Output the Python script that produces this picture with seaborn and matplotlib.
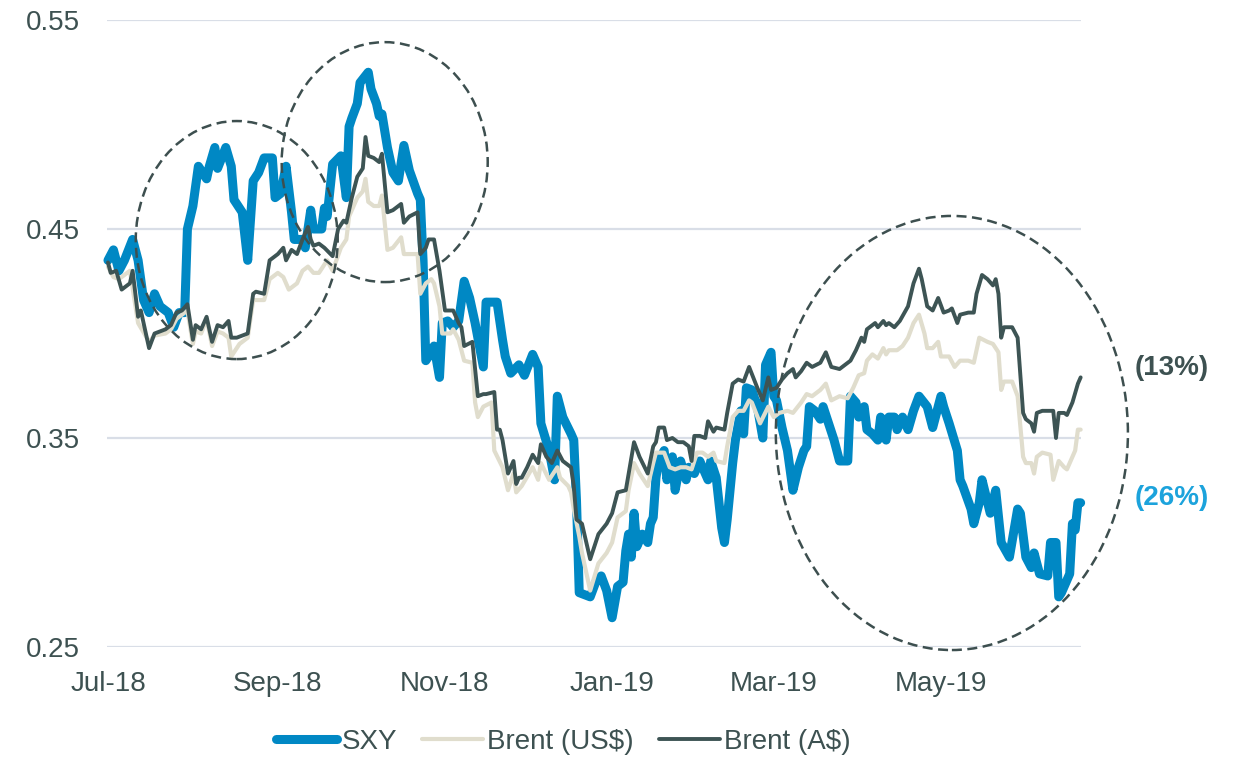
import pandas as pd
import matplotlib
matplotlib.use("Agg")
import matplotlib.pyplot as plt
import matplotlib.dates as mdates
from matplotlib.patches import Ellipse
from matplotlib.ticker import FormatStrFormatter
import seaborn as sns

# ---- data ----
sxy_dates = [
    "2018-07-01", "2018-07-03", "2018-07-05", "2018-07-07", "2018-07-10", "2018-07-12",
    "2018-07-14", "2018-07-16", "2018-07-18", "2018-07-20", "2018-07-23", "2018-07-25",
    "2018-07-27", "2018-07-29", "2018-07-30", "2018-08-01", "2018-08-03", "2018-08-06",
    "2018-08-07", "2018-08-09", "2018-08-10", "2018-08-13", "2018-08-15", "2018-08-16",
    "2018-08-19", "2018-08-21", "2018-08-23", "2018-08-25", "2018-08-27", "2018-08-30",
    "2018-08-31", "2018-09-02", "2018-09-04", "2018-09-06", "2018-09-07", "2018-09-10",
    "2018-09-11", "2018-09-13", "2018-09-14", "2018-09-17", "2018-09-18", "2018-09-19",
    "2018-09-21", "2018-09-24", "2018-09-26", "2018-09-27", "2018-09-28", "2018-09-30",
    "2018-10-01", "2018-10-04", "2018-10-05", "2018-10-07", "2018-10-08", "2018-10-09",
    "2018-10-11", "2018-10-13", "2018-10-15", "2018-10-17", "2018-10-19", "2018-10-22",
    "2018-10-23", "2018-10-24", "2018-10-25", "2018-10-27", "2018-10-28", "2018-10-30",
    "2018-10-31", "2018-11-02", "2018-11-04", "2018-11-06", "2018-11-08", "2018-11-10",
    "2018-11-12", "2018-11-15", "2018-11-16", "2018-11-20", "2018-11-22", "2018-11-23",
    "2018-11-25", "2018-11-28", "2018-11-30", "2018-12-03", "2018-12-05", "2018-12-06",
    "2018-12-09", "2018-12-11", "2018-12-12", "2018-12-14", "2018-12-17", "2018-12-18",
    "2018-12-19", "2018-12-20", "2018-12-24", "2018-12-26", "2018-12-28", "2018-12-30",
    "2019-01-01", "2019-01-03", "2019-01-05", "2019-01-06", "2019-01-07", "2019-01-08",
    "2019-01-09", "2019-01-10", "2019-01-12", "2019-01-14", "2019-01-15", "2019-01-16",
    "2019-01-17", "2019-01-18", "2019-01-20", "2019-01-21", "2019-01-23", "2019-01-24",
    "2019-01-26", "2019-01-28", "2019-01-29", "2019-01-31", "2019-02-02", "2019-02-05",
    "2019-02-06", "2019-02-08", "2019-02-10", "2019-02-11", "2019-02-12", "2019-02-14",
    "2019-02-15", "2019-02-17", "2019-02-18", "2019-02-19", "2019-02-21", "2019-02-23",
    "2019-02-25", "2019-02-26", "2019-02-28", "2019-03-01", "2019-03-02", "2019-03-04",
    "2019-03-06", "2019-03-08", "2019-03-10", "2019-03-12", "2019-03-13", "2019-03-14",
    "2019-03-16", "2019-03-18", "2019-03-19", "2019-03-20", "2019-03-23", "2019-03-25",
    "2019-03-28", "2019-03-29", "2019-03-31", "2019-04-01", "2019-04-03", "2019-04-04",
    "2019-04-06", "2019-04-08", "2019-04-09", "2019-04-11", "2019-04-12", "2019-04-14",
    "2019-04-15", "2019-04-17", "2019-04-19", "2019-04-21", "2019-04-23", "2019-04-26",
    "2019-04-28", "2019-05-01", "2019-05-02", "2019-05-04", "2019-05-07", "2019-05-08",
    "2019-05-09", "2019-05-12", "2019-05-13", "2019-05-15", "2019-05-16", "2019-05-19",
    "2019-05-21", "2019-05-23", "2019-05-26", "2019-05-29", "2019-05-30", "2019-06-01",
    "2019-06-03", "2019-06-04", "2019-06-06", "2019-06-09", "2019-06-10", "2019-06-12",
    "2019-06-13", "2019-06-14", "2019-06-17", "2019-06-18", "2019-06-19", "2019-06-20",
    "2019-06-21",
]
sxy_values = [
    0.435, 0.440, 0.430, 0.435, 0.445, 0.435,
    0.416, 0.410, 0.419, 0.413, 0.410, 0.403,
    0.410, 0.410, 0.450, 0.461, 0.480, 0.474,
    0.480, 0.489, 0.479, 0.489, 0.480, 0.464,
    0.458, 0.435, 0.473, 0.477, 0.484, 0.484,
    0.465, 0.467, 0.480, 0.458, 0.445, 0.445,
    0.441, 0.459, 0.450, 0.450, 0.460, 0.456,
    0.481, 0.485, 0.465, 0.499, 0.503, 0.510,
    0.520, 0.525, 0.517, 0.510, 0.504, 0.505,
    0.489, 0.477, 0.473, 0.490, 0.478, 0.467,
    0.464, 0.435, 0.387, 0.391, 0.394, 0.379,
    0.405, 0.406, 0.403, 0.406, 0.425, 0.417,
    0.405, 0.384, 0.415, 0.415, 0.397, 0.389,
    0.381, 0.385, 0.380, 0.390, 0.384, 0.357,
    0.344, 0.330, 0.370, 0.360, 0.352, 0.349,
    0.320, 0.276, 0.274, 0.281, 0.284, 0.277,
    0.264, 0.279, 0.281, 0.296, 0.304, 0.293,
    0.314, 0.298, 0.304, 0.300, 0.309, 0.312,
    0.331, 0.339, 0.344, 0.330, 0.341, 0.325,
    0.339, 0.330, 0.336, 0.333, 0.339, 0.330,
    0.339, 0.331, 0.307, 0.300, 0.311, 0.338,
    0.349, 0.363, 0.352, 0.374, 0.373, 0.365,
    0.350, 0.385, 0.391, 0.370, 0.368, 0.355,
    0.344, 0.325, 0.336, 0.344, 0.346, 0.365,
    0.363, 0.359, 0.365, 0.361, 0.349, 0.339,
    0.339, 0.370, 0.367, 0.360, 0.365, 0.354,
    0.352, 0.349, 0.360, 0.349, 0.360, 0.360,
    0.354, 0.360, 0.354, 0.363, 0.370, 0.365,
    0.355, 0.370, 0.365, 0.357, 0.344, 0.330,
    0.327, 0.316, 0.309, 0.319, 0.330, 0.314,
    0.325, 0.300, 0.293, 0.316, 0.314, 0.293,
    0.288, 0.295, 0.285, 0.284, 0.300, 0.300,
    0.274, 0.276, 0.285, 0.309, 0.306, 0.319,
    0.319,
]

brent_usd_dates = [
    "2018-07-01", "2018-07-03", "2018-07-05", "2018-07-09", "2018-07-12", "2018-07-16",
    "2018-07-18", "2018-07-22", "2018-07-24", "2018-07-26", "2018-07-28", "2018-07-30",
    "2018-08-01", "2018-08-02", "2018-08-04", "2018-08-06", "2018-08-08", "2018-08-10",
    "2018-08-12", "2018-08-14", "2018-08-15", "2018-08-18", "2018-08-21", "2018-08-23",
    "2018-08-27", "2018-08-29", "2018-09-01", "2018-09-03", "2018-09-05", "2018-09-08",
    "2018-09-10", "2018-09-12", "2018-09-14", "2018-09-16", "2018-09-19", "2018-09-21",
    "2018-09-24", "2018-09-26", "2018-09-27", "2018-09-30", "2018-10-02", "2018-10-03",
    "2018-10-04", "2018-10-06", "2018-10-08", "2018-10-09", "2018-10-11", "2018-10-13",
    "2018-10-16", "2018-10-17", "2018-10-19", "2018-10-22", "2018-10-23", "2018-10-25",
    "2018-10-27", "2018-10-28", "2018-10-30", "2018-10-31", "2018-11-03", "2018-11-04",
    "2018-11-06", "2018-11-08", "2018-11-11", "2018-11-12", "2018-11-13", "2018-11-15",
    "2018-11-18", "2018-11-19", "2018-11-22", "2018-11-24", "2018-11-26", "2018-11-27",
    "2018-11-29", "2018-12-03", "2018-12-05", "2018-12-06", "2018-12-09", "2018-12-12",
    "2018-12-13", "2018-12-16", "2018-12-17", "2018-12-18", "2018-12-20", "2018-12-21",
    "2018-12-24", "2018-12-27", "2018-12-30", "2019-01-01", "2019-01-03", "2019-01-06",
    "2019-01-07", "2019-01-09", "2019-01-11", "2019-01-14", "2019-01-16", "2019-01-17",
    "2019-01-18", "2019-01-20", "2019-01-22", "2019-01-24", "2019-01-26", "2019-01-28",
    "2019-01-30", "2019-02-01", "2019-02-03", "2019-02-05", "2019-02-07", "2019-02-08",
    "2019-02-11", "2019-02-12", "2019-02-14", "2019-02-16", "2019-02-18", "2019-02-20",
    "2019-02-21", "2019-02-24", "2019-02-27", "2019-03-01", "2019-03-03", "2019-03-06",
    "2019-03-08", "2019-03-11", "2019-03-13", "2019-03-15", "2019-03-18", "2019-03-20",
    "2019-03-22", "2019-03-25", "2019-03-28", "2019-03-30", "2019-04-01", "2019-04-03",
    "2019-04-04", "2019-04-06", "2019-04-08", "2019-04-10", "2019-04-11", "2019-04-12",
    "2019-04-15", "2019-04-17", "2019-04-19", "2019-04-21", "2019-04-23", "2019-04-25",
    "2019-04-26", "2019-04-28", "2019-04-30", "2019-05-01", "2019-05-04", "2019-05-06",
    "2019-05-08", "2019-05-11", "2019-05-13", "2019-05-15", "2019-05-18", "2019-05-20",
    "2019-05-22", "2019-05-23", "2019-05-24", "2019-05-27", "2019-05-29", "2019-05-31",
    "2019-06-01", "2019-06-03", "2019-06-04", "2019-06-05", "2019-06-07", "2019-06-10",
    "2019-06-11", "2019-06-13", "2019-06-15", "2019-06-16", "2019-06-18", "2019-06-19",
    "2019-06-20", "2019-06-21",
]
brent_usd_values = [
    0.432, 0.427, 0.426, 0.430, 0.405, 0.396,
    0.399, 0.400, 0.402, 0.407, 0.409, 0.411,
    0.395, 0.401, 0.400, 0.407, 0.394, 0.401,
    0.400, 0.398, 0.389, 0.395, 0.398, 0.416,
    0.416, 0.426, 0.429, 0.427, 0.421, 0.424,
    0.430, 0.432, 0.429, 0.429, 0.435, 0.430,
    0.441, 0.445, 0.456, 0.465, 0.468, 0.474,
    0.463, 0.461, 0.461, 0.466, 0.440, 0.441,
    0.446, 0.438, 0.438, 0.438, 0.419, 0.424,
    0.426, 0.424, 0.413, 0.400, 0.400, 0.402,
    0.397, 0.387, 0.386, 0.367, 0.360, 0.365,
    0.367, 0.344, 0.336, 0.325, 0.333, 0.324,
    0.327, 0.336, 0.330, 0.338, 0.330, 0.336,
    0.331, 0.327, 0.324, 0.316, 0.303, 0.295,
    0.277, 0.290, 0.295, 0.300, 0.312, 0.315,
    0.325, 0.338, 0.333, 0.327, 0.338, 0.343,
    0.343, 0.343, 0.336, 0.335, 0.336, 0.336,
    0.335, 0.343, 0.343, 0.341, 0.343, 0.339,
    0.338, 0.346, 0.360, 0.363, 0.363, 0.368,
    0.367, 0.357, 0.365, 0.360, 0.362, 0.363,
    0.362, 0.367, 0.371, 0.370, 0.373, 0.376,
    0.368, 0.370, 0.369, 0.374, 0.380, 0.381,
    0.387, 0.390, 0.388, 0.393, 0.390, 0.392,
    0.392, 0.394, 0.398, 0.405, 0.409, 0.400,
    0.393, 0.393, 0.396, 0.389, 0.389, 0.384,
    0.387, 0.387, 0.386, 0.398, 0.396, 0.395,
    0.391, 0.373, 0.377, 0.377, 0.370, 0.341,
    0.338, 0.338, 0.333, 0.341, 0.343, 0.342,
    0.330, 0.339, 0.336, 0.335, 0.341, 0.344,
    0.354, 0.354,
]

brent_aud_dates = [
    "2018-07-01", "2018-07-02", "2018-07-04", "2018-07-06", "2018-07-09", "2018-07-10",
    "2018-07-12", "2018-07-13", "2018-07-16", "2018-07-18", "2018-07-22", "2018-07-24",
    "2018-07-26", "2018-07-28", "2018-07-30", "2018-08-01", "2018-08-02", "2018-08-04",
    "2018-08-06", "2018-08-08", "2018-08-10", "2018-08-12", "2018-08-14", "2018-08-15",
    "2018-08-17", "2018-08-21", "2018-08-23", "2018-08-24", "2018-08-27", "2018-08-29",
    "2018-09-01", "2018-09-03", "2018-09-04", "2018-09-06", "2018-09-08", "2018-09-10",
    "2018-09-12", "2018-09-13", "2018-09-14", "2018-09-16", "2018-09-18", "2018-09-21",
    "2018-09-23", "2018-09-25", "2018-09-26", "2018-09-28", "2018-09-30", "2018-10-02",
    "2018-10-03", "2018-10-04", "2018-10-06", "2018-10-08", "2018-10-09", "2018-10-11",
    "2018-10-13", "2018-10-16", "2018-10-17", "2018-10-19", "2018-10-22", "2018-10-23",
    "2018-10-25", "2018-10-26", "2018-10-28", "2018-10-30", "2018-11-01", "2018-11-04",
    "2018-11-06", "2018-11-07", "2018-11-08", "2018-11-11", "2018-11-13", "2018-11-15",
    "2018-11-16", "2018-11-19", "2018-11-20", "2018-11-21", "2018-11-22", "2018-11-24",
    "2018-11-26", "2018-11-27", "2018-11-28", "2018-11-29", "2018-12-01", "2018-12-03",
    "2018-12-05", "2018-12-06", "2018-12-08", "2018-12-10", "2018-12-12", "2018-12-14",
    "2018-12-17", "2018-12-18", "2018-12-19", "2018-12-21", "2018-12-24", "2018-12-27",
    "2018-12-30", "2019-01-01", "2019-01-03", "2019-01-06", "2019-01-09", "2019-01-11",
    "2019-01-14", "2019-01-16", "2019-01-17", "2019-01-18", "2019-01-20", "2019-01-21",
    "2019-01-23", "2019-01-25", "2019-01-27", "2019-01-29", "2019-01-30", "2019-01-31",
    "2019-02-02", "2019-02-04", "2019-02-05", "2019-02-07", "2019-02-08", "2019-02-11",
    "2019-02-12", "2019-02-14", "2019-02-16", "2019-02-18", "2019-02-20", "2019-02-23",
    "2019-02-25", "2019-02-27", "2019-02-28", "2019-03-02", "2019-03-04", "2019-03-06",
    "2019-03-08", "2019-03-09", "2019-03-11", "2019-03-13", "2019-03-15", "2019-03-18",
    "2019-03-20", "2019-03-22", "2019-03-25", "2019-03-27", "2019-03-29", "2019-03-31",
    "2019-04-02", "2019-04-03", "2019-04-04", "2019-04-07", "2019-04-08", "2019-04-10",
    "2019-04-11", "2019-04-12", "2019-04-14", "2019-04-16", "2019-04-19", "2019-04-21",
    "2019-04-23", "2019-04-24", "2019-04-26", "2019-04-28", "2019-04-30", "2019-05-02",
    "2019-05-04", "2019-05-05", "2019-05-07", "2019-05-08", "2019-05-11", "2019-05-13",
    "2019-05-14", "2019-05-16", "2019-05-18", "2019-05-20", "2019-05-21", "2019-05-22",
    "2019-05-23", "2019-05-24", "2019-05-27", "2019-05-29", "2019-05-31", "2019-06-01",
    "2019-06-03", "2019-06-04", "2019-06-05", "2019-06-07", "2019-06-10", "2019-06-11",
    "2019-06-12", "2019-06-13", "2019-06-15", "2019-06-16", "2019-06-18", "2019-06-20",
    "2019-06-21",
]
brent_aud_values = [
    0.434, 0.429, 0.430, 0.421, 0.424, 0.430,
    0.408, 0.411, 0.393, 0.400, 0.402, 0.404,
    0.410, 0.411, 0.414, 0.397, 0.404, 0.402,
    0.408, 0.396, 0.404, 0.403, 0.406, 0.398,
    0.398, 0.400, 0.419, 0.420, 0.419, 0.435,
    0.438, 0.441, 0.435, 0.440, 0.438, 0.445,
    0.451, 0.445, 0.442, 0.443, 0.441, 0.437,
    0.450, 0.454, 0.453, 0.465, 0.475, 0.479,
    0.494, 0.485, 0.484, 0.482, 0.486, 0.458,
    0.459, 0.462, 0.453, 0.456, 0.458, 0.438,
    0.441, 0.445, 0.445, 0.430, 0.411, 0.411,
    0.405, 0.403, 0.394, 0.396, 0.370, 0.371,
    0.371, 0.372, 0.354, 0.354, 0.349, 0.333,
    0.339, 0.328, 0.331, 0.331, 0.336, 0.342,
    0.338, 0.347, 0.341, 0.338, 0.344, 0.339,
    0.336, 0.327, 0.311, 0.309, 0.292, 0.304,
    0.309, 0.314, 0.324, 0.325, 0.348, 0.341,
    0.333, 0.346, 0.348, 0.355, 0.355, 0.349,
    0.350, 0.348, 0.348, 0.346, 0.339, 0.351,
    0.351, 0.350, 0.358, 0.353, 0.355, 0.354,
    0.362, 0.376, 0.378, 0.377, 0.384, 0.374,
    0.368, 0.379, 0.373, 0.374, 0.378, 0.381,
    0.383, 0.379, 0.382, 0.386, 0.384, 0.386,
    0.391, 0.384, 0.383, 0.385, 0.387, 0.392,
    0.398, 0.396, 0.402, 0.405, 0.403, 0.406,
    0.404, 0.405, 0.403, 0.406, 0.413, 0.424,
    0.431, 0.426, 0.413, 0.411, 0.417, 0.410,
    0.411, 0.412, 0.405, 0.409, 0.410, 0.410,
    0.419, 0.428, 0.426, 0.423, 0.426, 0.419,
    0.398, 0.403, 0.403, 0.398, 0.362, 0.359,
    0.357, 0.353, 0.362, 0.363, 0.363, 0.363,
    0.350, 0.362, 0.362, 0.361, 0.367, 0.376,
    0.379,
]

tick_color = "#3d5151"
blue = "#0088c4"
light = "#e0ddcd"
dark = "#3d5454"

sns.set_theme(style="white")
plt.rcParams["font.family"] = ["Liberation Sans", "DejaVu Sans"]

fig = plt.figure(figsize=(12.38, 7.57), dpi=100)
ax = fig.add_axes([0.0861, 0.1453, 0.7868, 0.8283])

sxy = pd.DataFrame({"date": pd.to_datetime(sxy_dates), "value": sxy_values})
usd = pd.DataFrame({"date": pd.to_datetime(brent_usd_dates), "value": brent_usd_values})
aud = pd.DataFrame({"date": pd.to_datetime(brent_aud_dates), "value": brent_aud_values})

sns.lineplot(data=sxy, x="date", y="value", ax=ax, color=blue, linewidth=6.5,
             label="SXY", solid_joinstyle="round", solid_capstyle="round", clip_on=False)
sns.lineplot(data=usd, x="date", y="value", ax=ax, color=light, linewidth=3.0,
             label="Brent (US$)", solid_joinstyle="round", clip_on=False)
sns.lineplot(data=aud, x="date", y="value", ax=ax, color=dark, linewidth=2.8,
             label="Brent (A$)", solid_joinstyle="round", clip_on=False)

ax.set_xlim(pd.Timestamp("2018-06-30 12:00"), pd.Timestamp("2019-06-21"))
ax.set_ylim(0.25, 0.55)
ax.set_yticks([0.25, 0.35, 0.45, 0.55])
ax.yaxis.set_major_formatter(FormatStrFormatter("%.2f"))
ax.xaxis.set_major_locator(mdates.MonthLocator(bymonth=[1, 3, 5, 7, 9, 11]))
ax.xaxis.set_major_formatter(mdates.DateFormatter("%b-%y"))
ax.set_xlabel("")
ax.set_ylabel("")

ax.yaxis.grid(True, color="#d9dee7", linewidth=1.6)
ax.xaxis.grid(False)
ax.set_axisbelow(True)
for s in ax.spines.values():
    s.set_visible(False)
ax.tick_params(axis="x", length=0, pad=17, labelsize=20, labelcolor=tick_color)
ax.tick_params(axis="y", length=0, pad=19, labelsize=20, labelcolor=tick_color)

# dashed ellipses around the highlighted periods
ell_style = dict(fill=False, edgecolor="#3d4f4f", linewidth=1.8,
                 linestyle=(0, (4, 2.2)), clip_on=False, zorder=5)
ax.add_patch(Ellipse((mdates.date2num(pd.Timestamp("2018-08-17")), 0.4447),
                     width=73.7, height=0.1139, **ell_style))
ax.add_patch(Ellipse((mdates.date2num(pd.Timestamp("2018-10-10")), 0.482),
                     width=75.2, height=0.1148, **ell_style))
ax.add_patch(Ellipse((mdates.date2num(pd.Timestamp("2019-05-05")), 0.3524),
                     width=128.5, height=0.2077, **ell_style))

leg = ax.legend(loc="center", bbox_to_anchor=(0.455, 0.02), bbox_transform=fig.transFigure,
                ncol=3, frameon=False, handlelength=2.2, handletextpad=0.15,
                columnspacing=0.9, fontsize=20, labelcolor=tick_color)

fig.text(1135 / 1238, 1 - 368 / 757, "(13%)", ha="left", va="center",
         fontsize=20, fontweight="bold", color=tick_color)
fig.text(1135 / 1238, 1 - 498 / 757, "(26%)", ha="left", va="center",
         fontsize=20, fontweight="bold", color="#1ca3dc")

fig.savefig("out.png", dpi=100)
plt.close(fig)
